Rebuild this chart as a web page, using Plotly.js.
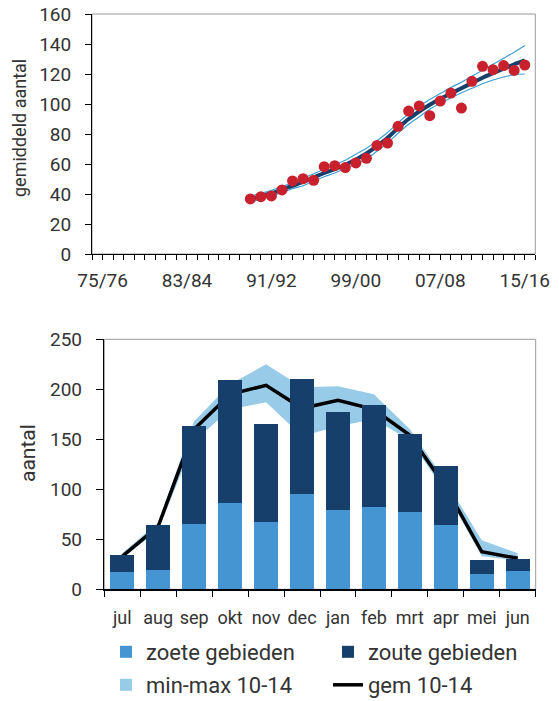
<!DOCTYPE html>
<html>
<head>
<meta charset="utf-8">
<script src="https://cdn.plot.ly/plotly-3.0.1.min.js"></script>
<style>
  html, body { margin: 0; padding: 0; background: #fff; overflow: hidden; }
  #wrap { width: 559px; height: 701px; overflow: hidden; }
  #chart { width: 559px; }
</style>
</head>
<body>
<div id="wrap"><div id="chart"></div></div>
<script>
// ---------- Top chart data ----------
const seasons = ['74/75','75/76','76/77','77/78','78/79','79/80','80/81','81/82','82/83','83/84',
  '84/85','85/86','86/87','87/88','88/89','89/90','90/91','91/92','92/93','93/94','94/95','95/96',
  '96/97','97/98','98/99','99/00','00/01','01/02','02/03','03/04','04/05','05/06','06/07','07/08',
  '08/09','09/10','10/11','11/12','12/13','13/14','14/15','15/16','16/17'];
const seasonTickLabels = ['75/76','83/84','91/92','99/00','07/08','15/16'];
const countSeasons = ['89/90','90/91','91/92','92/93','93/94','94/95','95/96','96/97','97/98','98/99',
  '99/00','00/01','01/02','02/03','03/04','04/05','05/06','06/07','07/08','08/09','09/10','10/11',
  '11/12','12/13','13/14','14/15','15/16'];
const meanCount = [36.7, 38.2, 38.7, 42.7, 48.7, 50.2, 49.1, 58.2, 58.9, 57.6, 60.7, 63.8, 72.4, 74,
  85.1, 95.3, 98.7, 92.2, 102, 107.3, 97.3, 115.1, 125.1, 122.9, 125.6, 122.4, 126];
const trend = [36.5, 38.5, 40.5, 43, 45.5, 48, 51, 54, 56.5, 59.5, 63, 67, 72, 77.5, 84, 90, 95,
  99.5, 103.5, 107, 110.5, 114, 117.5, 120.5, 123.5, 126.5, 129];
const trendUpper = [38.5, 40.5, 42.5, 45, 47.5, 50.5, 53.5, 56.5, 59.5, 62.5, 66.5, 70.5, 75.5, 81,
  87.5, 93.5, 98.5, 103, 107, 111, 114.5, 118.5, 122.5, 126.5, 130.5, 134.5, 139];
const trendLower = [34.5, 36.5, 38.5, 41, 43.5, 45.5, 48.5, 51.5, 54, 57, 60, 63.5, 68.5, 74, 80.5,
  86.5, 91.5, 96.5, 100.5, 104, 107.5, 110.5, 113.5, 116, 118, 119.5, 120];

// ---------- Bottom chart data ----------
const months = ['jul','aug','sep','okt','nov','dec','jan','feb','mrt','apr','mei','jun'];
const zoete = [17, 19, 65, 86, 67, 95, 79, 82, 77, 64, 15, 18];
const zoute = [17, 45, 98, 123, 98, 115, 98, 102, 78, 59, 14, 12];
const gem = [33, 63, 160, 195, 204, 181, 189, 180, 154, 102, 37.5, 31];
const minVal = [31, 59, 148, 180, 187, 153, 163, 170, 149, 97, 33, 29];
const maxVal = [36, 67, 168, 205, 225, 202, 203, 195, 160, 108, 49, 36];

// ---------- Styles ----------
const FONT = 'Roboto, Open Sans, sans-serif';
const TXT = '#333333';
// figure is drawn slightly taller than the 701px window so the bottom legend row
// has room for its (empty) padding without pushing the plot margins
const W = 559, H = 724;
const px = v => v / W;
const py = v => (H - v) / H;

const topX = [px(92), px(535.3)];
const topY = [py(254), py(14)];
const botX = [px(104.3), px(535.7)];
const botY = [py(589.3), py(339.3)];

const traces = [
  // top chart
  {x: countSeasons, y: trendUpper, xaxis: 'x', yaxis: 'y', type: 'scatter', mode: 'lines',
   line: {color: '#3d9fd3', width: 1.2, shape: 'spline'}, showlegend: false, hoverinfo: 'skip'},
  {x: countSeasons, y: trendLower, xaxis: 'x', yaxis: 'y', type: 'scatter', mode: 'lines',
   line: {color: '#3d9fd3', width: 1.2, shape: 'spline'}, showlegend: false, hoverinfo: 'skip'},
  {x: countSeasons, y: trend, xaxis: 'x', yaxis: 'y', type: 'scatter', mode: 'lines',
   line: {color: '#173f6c', width: 4, shape: 'spline'}, showlegend: false},
  {x: countSeasons, y: meanCount, xaxis: 'x', yaxis: 'y', type: 'scatter', mode: 'markers',
   marker: {color: '#c8202d', size: 11}, showlegend: false},

  // bottom chart: band + line on base subplot (drawn under bars)
  {x: months, y: minVal, xaxis: 'x2', yaxis: 'y2', type: 'scatter', mode: 'lines',
   line: {width: 0, color: 'rgba(0,0,0,0)'}, showlegend: false, hoverinfo: 'skip'},
  {x: months, y: maxVal, xaxis: 'x2', yaxis: 'y2', type: 'scatter', mode: 'lines', fill: 'tonexty',
   fillcolor: '#97cbe8', line: {width: 0, color: 'rgba(0,0,0,0)'}, showlegend: false},
  {x: months, y: gem, xaxis: 'x2', yaxis: 'y2', type: 'scatter', mode: 'lines', name: 'gem 10-14',
   line: {color: '#000000', width: 3.5}, legend: 'legend4'},

  // bars on overlay subplot (drawn on top)
  {x: months, y: zoete, xaxis: 'x3', yaxis: 'y3', type: 'bar', name: 'zoete gebieden',
   marker: {color: '#4495d1', line: {width: 0}}, legend: 'legend'},
  {x: months, y: zoute, xaxis: 'x3', yaxis: 'y3', type: 'bar', name: 'zoute gebieden',
   marker: {color: '#163f6b', line: {width: 0}}, legend: 'legend2'},
  // legend swatch for the min-max band
  {x: [months[0]], y: [null], xaxis: 'x3', yaxis: 'y3', type: 'bar', name: 'min-max 10-14',
   marker: {color: '#97cbe8'}, legend: 'legend3'}
];

const tickFont = {family: FONT, size: 19, color: TXT};
const legendFont = {family: FONT, size: 22, color: TXT};

const legendAt = (x, y) => ({
  orientation: 'h', xanchor: 'left', yanchor: 'middle', x: px(x), y: py(y),
  font: legendFont, bgcolor: 'rgba(0,0,0,0)', borderwidth: 0
});

const layout = {
  width: W, height: H,
  margin: {l: 0, r: 0, t: 0, b: 0},
  paper_bgcolor: '#ffffff', plot_bgcolor: 'rgba(0,0,0,0)',
  font: {family: FONT, color: TXT},
  showlegend: true,
  barmode: 'stack',
  bargap: 0.333,
  xaxis: {
    domain: topX, anchor: 'y', type: 'category', categoryorder: 'array', categoryarray: seasons,
    range: [0, seasons.length - 1], tickmode: 'array', tickvals: seasons,
    ticktext: seasons.map(s => seasonTickLabels.includes(s) ? s : ''), tickangle: 0,
    ticks: 'outside', ticklen: 5, tickcolor: '#000', tickwidth: 1,
    showline: true, linecolor: '#000', linewidth: 1, showgrid: false, zeroline: false,
    tickfont: tickFont, ticklabelstandoff: 4, fixedrange: true, automargin: false
  },
  yaxis: {
    domain: topY, anchor: 'x', range: [0, 160], dtick: 20, tick0: 0,
    ticks: 'outside', ticklen: 6, tickcolor: '#000', tickwidth: 1,
    showline: true, linecolor: '#000', linewidth: 1, showgrid: false, zeroline: false,
    tickfont: tickFont, ticklabelstandoff: 10, fixedrange: true, automargin: false
  },
  xaxis2: {
    domain: botX, anchor: 'y2', type: 'category', categoryorder: 'array', categoryarray: months,
    range: [-0.5, months.length - 0.5], tickson: 'boundaries', tickangle: 0,
    ticks: 'outside', ticklen: 6, tickcolor: '#000', tickwidth: 1,
    showline: true, linecolor: '#000', linewidth: 2, showgrid: false, zeroline: false,
    tickfont: {family: FONT, size: 18, color: TXT}, ticklabelstandoff: 11, fixedrange: true, automargin: false
  },
  yaxis2: {
    domain: botY, anchor: 'x2', range: [0, 250], dtick: 50, tick0: 0,
    ticks: 'outside', ticklen: 7, tickcolor: '#000', tickwidth: 1,
    showline: true, linecolor: '#000', linewidth: 1.5, showgrid: false, zeroline: false,
    tickfont: tickFont, ticklabelstandoff: 10, fixedrange: true, automargin: false
  },
  xaxis3: {
    overlaying: 'x2', anchor: 'y3', type: 'category', categoryorder: 'array', categoryarray: months,
    range: [-0.5, months.length - 0.5], visible: false, fixedrange: true
  },
  yaxis3: {
    overlaying: 'y2', anchor: 'x3', range: [0, 250], visible: false, fixedrange: true
  },
  shapes: [
    {type: 'rect', xref: 'paper', yref: 'paper', x0: topX[0], x1: topX[1], y0: topY[0], y1: topY[1],
     line: {color: '#9a9a9a', width: 1}, layer: 'below'},
    {type: 'rect', xref: 'paper', yref: 'paper', x0: botX[0], x1: botX[1], y0: botY[0], y1: botY[1],
     line: {color: '#9a9a9a', width: 1}, layer: 'below'}
  ],
  annotations: [
    {text: 'gemiddeld aantal', xref: 'paper', yref: 'paper', x: px(19), y: py(128),
     xanchor: 'center', yanchor: 'middle', textangle: -90, showarrow: false,
     font: {family: FONT, size: 18, color: TXT}},
    {text: 'aantal', xref: 'paper', yref: 'paper', x: px(28), y: py(453),
     xanchor: 'center', yanchor: 'middle', textangle: -90, showarrow: false,
     font: {family: FONT, size: 21, color: TXT}}
  ],
  legend: legendAt(106, 652),
  legend2: legendAt(328, 652),
  legend3: legendAt(106, 685),
  legend4: legendAt(328, 685)
};

Plotly.newPlot('chart', traces, layout, {displayModeBar: false, staticPlot: true});
</script>
</body>
</html>
